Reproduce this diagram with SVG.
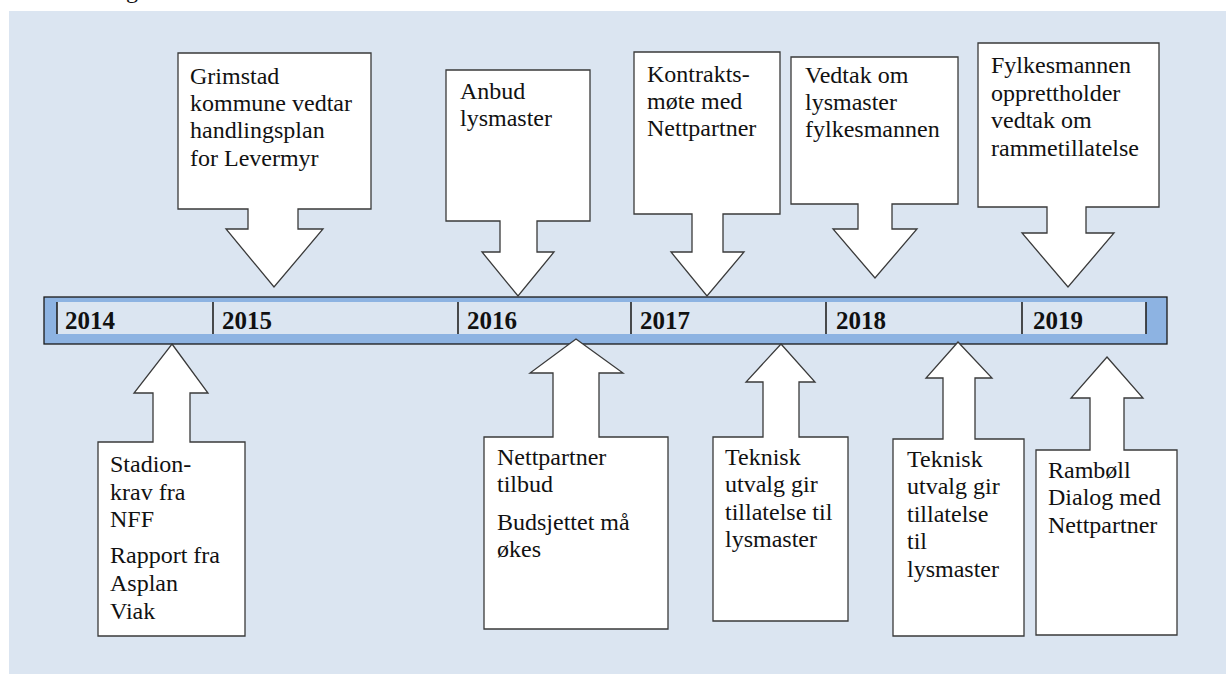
<svg xmlns="http://www.w3.org/2000/svg" width="1226" height="674" viewBox="0 0 1226 674">
<style>
.call{fill:#ffffff;stroke:#3a3a3a;stroke-width:1.3;stroke-linejoin:miter}
.t{font-family:"Liberation Serif","Times New Roman",serif;font-size:24px;fill:#111}
.yr{font-family:"Liberation Serif","Times New Roman",serif;font-size:25px;font-weight:bold;fill:#111}
.div{stroke:#222;stroke-width:1.6}
</style>
<rect x="0" y="0" width="1226" height="674" fill="#ffffff"/>
<text class="t" x="126" y="-2" font-size="22">g</text>
<rect x="9" y="11" width="1217" height="663" fill="#dbe5f1"/>

<g id="timeline">
<rect x="44" y="297" width="1123" height="47" fill="#8db3e2" stroke="#1a1a1a" stroke-width="1.3"/>
<rect x="57" y="302" width="1089" height="32" fill="#dbe5f1"/>
<line class="div" x1="57" y1="302" x2="57" y2="334"/>
<line class="div" x1="213" y1="302" x2="213" y2="334"/>
<line class="div" x1="458" y1="302" x2="458" y2="334"/>
<line class="div" x1="631" y1="302" x2="631" y2="334"/>
<line class="div" x1="826" y1="302" x2="826" y2="334"/>
<line class="div" x1="1022" y1="302" x2="1022" y2="334"/>
<line class="div" x1="1146" y1="302" x2="1146" y2="334"/>
<text class="yr" x="65" y="329">2014</text>
<text class="yr" x="222" y="329">2015</text>
<text class="yr" x="467" y="329">2016</text>
<text class="yr" x="640" y="329">2017</text>
<text class="yr" x="836" y="329">2018</text>
<text class="yr" x="1033" y="329">2019</text>
</g>

<g id="connectors"></g>

<g id="n-grimstad">
<polygon class="call" points="178,53 371,53 371,209 298,209 298,229 323,229 274,287 226,229 248,229 248,209 178,209"/>
<text class="t" x="190" y="84">Grimstad</text>
<text class="t" x="190" y="111">kommune vedtar</text>
<text class="t" x="190" y="138">handlingsplan</text>
<text class="t" x="190" y="166">for Levermyr</text>
</g>

<g id="n-anbud">
<polygon class="call" points="446,70 590,70 590,221 537,221 537,252 554,252 518,296 482,252 500,252 500,221 446,221"/>
<text class="t" x="460" y="99">Anbud</text>
<text class="t" x="460" y="126">lysmaster</text>
</g>

<g id="n-kontrakt">
<polygon class="call" points="634,52 780,52 780,214 723,214 723,252 744,252 707,296 671,252 692,252 692,214 634,214"/>
<text class="t" x="647" y="82">Kontrakts-</text>
<text class="t" x="647" y="109">møte med</text>
<text class="t" x="647" y="136">Nettpartner</text>
</g>

<g id="n-vedtak">
<polygon class="call" points="791,57 958,57 958,204 892,204 892,229 917,229 875,278 833,229 858,229 858,204 791,204"/>
<text class="t" x="805" y="83">Vedtak om</text>
<text class="t" x="805" y="110">lysmaster</text>
<text class="t" x="805" y="137">fylkesmannen</text>
</g>

<g id="n-fylkesmannen">
<polygon class="call" points="978,43 1159,43 1159,207 1086,207 1086,233 1114,233 1068,287 1022,233 1047,233 1047,207 978,207"/>
<text class="t" x="991" y="73">Fylkesmannen</text>
<text class="t" x="991" y="100.5">opprettholder</text>
<text class="t" x="991" y="128">vedtak om</text>
<text class="t" x="991" y="155.5">rammetillatelse</text>
</g>

<g id="n-stadion">
<polygon class="call" points="172,344 208,393 190,393 190,442 245,442 245,636 98,636 98,442 153,442 153,393 134,393"/>
<text class="t" x="110" y="472">Stadion-</text>
<text class="t" x="110" y="499.5">krav fra</text>
<text class="t" x="110" y="527">NFF</text>
<text class="t" x="110" y="563">Rapport fra</text>
<text class="t" x="110" y="591">Asplan</text>
<text class="t" x="110" y="619">Viak</text>
</g>

<g id="n-nettpartner">
<polygon class="call" points="576,339 623,373 599,373 599,437 668,437 668,629 484,629 484,437 553,437 553,373 530,373"/>
<text class="t" x="497" y="465">Nettpartner</text>
<text class="t" x="497" y="492">tilbud</text>
<text class="t" x="497" y="530">Budsjettet må</text>
<text class="t" x="497" y="557">økes</text>
</g>

<g id="n-teknisk1">
<polygon class="call" points="781,344 815,382 799,382 799,437 848,437 848,621 713,621 713,437 763,437 763,382 746,382"/>
<text class="t" x="725" y="465">Teknisk</text>
<text class="t" x="725" y="492">utvalg gir</text>
<text class="t" x="725" y="520">tillatelse til</text>
<text class="t" x="725" y="547">lysmaster</text>
</g>

<g id="n-teknisk2">
<polygon class="call" points="958,342 992,378 975,378 975,439 1024,439 1024,636 893,636 893,439 943,439 943,378 926,378"/>
<text class="t" x="907" y="467">Teknisk</text>
<text class="t" x="907" y="494">utvalg gir</text>
<text class="t" x="907" y="522">tillatelse</text>
<text class="t" x="907" y="549">til</text>
<text class="t" x="907" y="577">lysmaster</text>
</g>

<g id="n-ramboll">
<polygon class="call" points="1107,357 1143,398 1124,398 1124,450 1177,450 1177,635 1036,635 1036,450 1090,450 1090,398 1071,398"/>
<text class="t" x="1048" y="478">Rambøll</text>
<text class="t" x="1048" y="505">Dialog med</text>
<text class="t" x="1048" y="533">Nettpartner</text>
</g>
</svg>
